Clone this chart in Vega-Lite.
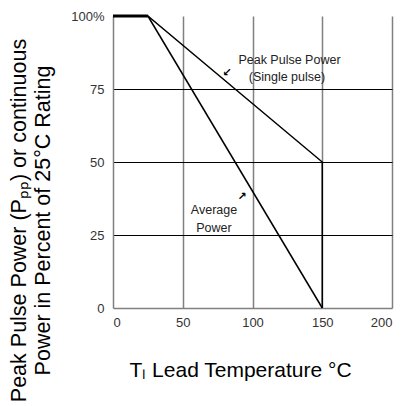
{
  "$schema": "https://vega.github.io/schema/vega-lite/v6.json",
  "autosize": "none",
  "width": 279,
  "height": 292,
  "padding": {"left": 113, "top": 16, "right": 13, "bottom": 98},
  "background": "white",
  "config": {
    "view": {"stroke": null},
    "font": "Liberation Sans"
  },
  "datasets": {
    "curves": [
      {"series": "Peak Pulse Power", "temp": 0, "pct": 100},
      {"series": "Peak Pulse Power", "temp": 25, "pct": 100},
      {"series": "Peak Pulse Power", "temp": 150, "pct": 50},
      {"series": "Peak Pulse Power", "temp": 150, "pct": 0},
      {"series": "Average Power", "temp": 25, "pct": 100},
      {"series": "Average Power", "temp": 150, "pct": 0}
    ],
    "notes": [
      {"temp": 126.5, "pct": 84.9, "label": "Peak Pulse Power"},
      {"temp": 124.7, "pct": 79.1, "label": "(Single pulse)"},
      {"temp": 72.4, "pct": 33.6, "label": "Average"},
      {"temp": 72.4, "pct": 27.4, "label": "Power"}
    ],
    "arrows": [
      {"temp": 81.7, "pct": 80.5, "label": "↙"},
      {"temp": 92.5, "pct": 38.0, "label": "↗"}
    ]
  },
  "encoding": {
    "x": {
      "field": "temp", "type": "quantitative",
      "scale": {"domain": [0, 200], "nice": false, "zero": false},
      "axis": {
        "values": [0, 50, 100, 150, 200],
        "title": "Tₗ Lead Temperature °C",
        "titleFont": "Liberation Sans",
        "titleFontSize": 21,
        "titleFontWeight": "normal",
        "titleColor": "#000000",
        "titleX": 127,
        "titleY": 62,
        "titleBaseline": "middle",
        "titleAlign": "center",
        "titleAnchor": null,
        "labelFont": "Liberation Sans",
        "labelFontSize": 13,
        "labelColor": "#333333",
        "labelPadding": 8,
        "ticks": false,
        "domainColor": "#808080",
        "domainWidth": 1.5,
        "grid": true,
        "gridColor": "#808080",
        "gridWidth": 1.5,
        "gridOpacity": {"condition": {"test": "datum.value == 0", "value": 0}, "value": 1}
      }
    },
    "y": {
      "field": "pct", "type": "quantitative",
      "scale": {"domain": [0, 100], "nice": false},
      "axis": {
        "values": [0, 25, 50, 75, 100],
        "labelExpr": "datum.value == 100 ? '100%' : datum.label",
        "title": ["Peak Pulse Power (Pₚₚ) or continuous", "Power in Percent of 25°C Rating"],
        "titleFont": "Liberation Sans",
        "titleFontSize": 21.5,
        "titleFontWeight": "normal",
        "titleColor": "#000000",
        "titleLineHeight": 24.5,
        "titleX": -94,
        "titleY": 204,
        "titleBaseline": "middle",
        "titleAlign": "center",
        "titleAnchor": null,
        "labelFont": "Liberation Sans",
        "labelFontSize": 13,
        "labelColor": "#333333",
        "labelPadding": 9,
        "ticks": false,
        "domainColor": "#808080",
        "domainWidth": 1.5,
        "grid": true,
        "gridColor": "#000000",
        "gridWidth": 1,
        "gridOpacity": {"condition": {"test": "datum.value == 0 || datum.value == 100", "value": 0}, "value": 1}
      }
    }
  },
  "layer": [
    {
      "data": {"name": "curves"},
      "mark": {"type": "line", "color": "#000000", "strokeWidth": 1.5},
      "encoding": {"detail": {"field": "series"}}
    },
    {
      "data": {"name": "curves"},
      "transform": [{"filter": "datum.series == 'Peak Pulse Power' && datum.temp <= 25"}],
      "mark": {"type": "line", "color": "#000000", "strokeWidth": 3}
    },
    {
      "data": {"name": "notes"},
      "mark": {"type": "text", "font": "Liberation Sans", "fontSize": 12.5, "color": "#222222", "align": "center", "baseline": "middle"},
      "encoding": {"text": {"field": "label"}}
    },
    {
      "data": {"name": "arrows"},
      "mark": {"type": "text", "font": "DejaVu Sans", "fontSize": 11, "fontWeight": "bold", "color": "#000000", "align": "center", "baseline": "middle"},
      "encoding": {"text": {"field": "label"}}
    }
  ]
}
